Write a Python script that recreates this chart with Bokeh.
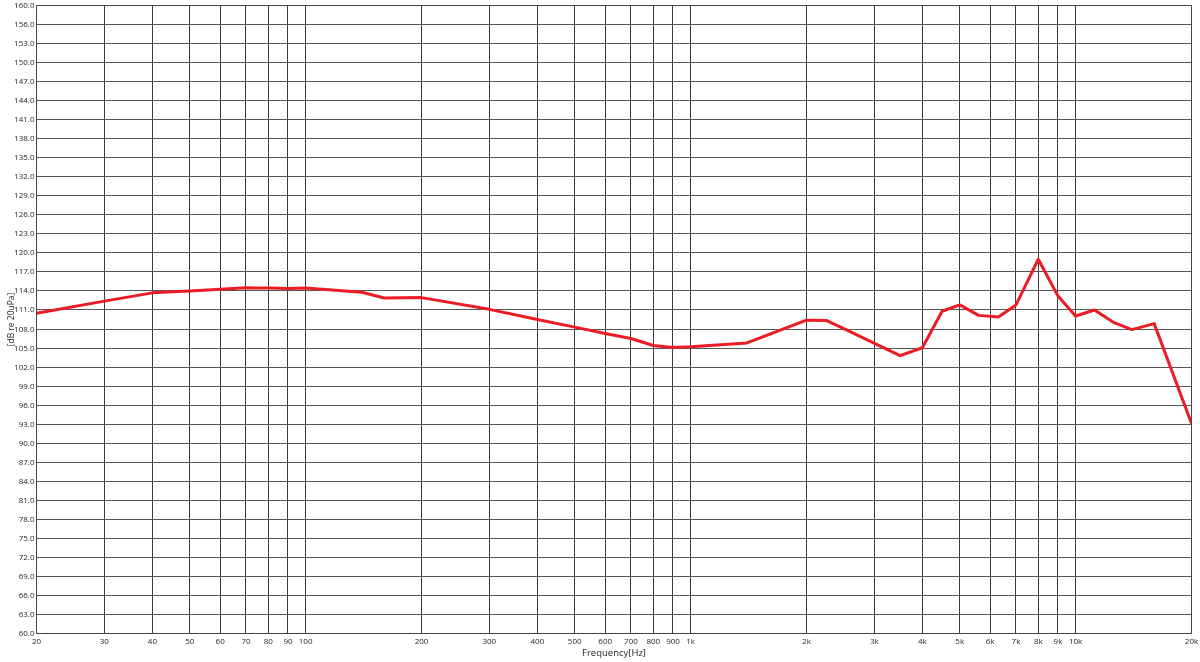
from bokeh.plotting import figure
from bokeh.models import FixedTicker
from bokeh.embed import file_html
from bokeh.resources import INLINE

# ---- data ----
freq_hz = [20, 30, 40, 50, 60, 70, 80, 90, 100, 140, 160, 200, 300, 400, 500, 600,
           700, 800, 900, 1000, 1400, 2000, 2250, 2500, 3500, 4000, 4500, 5000,
           5600, 6300, 7000, 8000, 9000, 10000, 11200, 12500, 14000, 16000, 20000]
level_db = [110.5, 112.4, 113.7, 114.0, 114.25, 114.5, 114.45, 114.4, 114.45, 113.8,
            112.9, 112.95, 111.1, 109.5, 108.3, 107.3, 106.5, 105.4, 105.1, 105.2,
            105.8, 109.4, 109.35, 108.05, 103.8, 105.05, 110.8, 111.8, 110.15, 109.9,
            111.8, 119.0, 113.2, 110.05, 111.0, 109.1, 107.9, 108.85, 93.1]

x_ticks = [20, 30, 40, 50, 60, 70, 80, 90, 100, 200, 300, 400, 500, 600, 700, 800,
           900, 1000, 2000, 3000, 4000, 5000, 6000, 7000, 8000, 9000, 10000, 20000]
x_tick_labels = ["20", "30", "40", "50", "60", "70", "80", "90", "100", "200", "300",
                 "400", "500", "600", "700", "800", "900", "1k", "2k", "3k", "4k",
                 "5k", "6k", "7k", "8k", "9k", "10k", "20k"]
y_ticks = [60 + 3 * i for i in range(34)]          # 60 ... 159
y_tick_labels = [f"{v:.1f}" for v in y_ticks[:-1]] + ["160.0"]

FONT = "Open Sans"
TXT = "#262626"

p = figure(width=1200, height=662, x_axis_type="log",
           x_range=(20, 20000), y_range=(60, 159),
           output_backend="svg", toolbar_location=None,
           min_border_left=36, min_border_right=9,
           min_border_top=5, min_border_bottom=29)
p.styles = {"position": "fixed", "top": "0px", "left": "0px"}
p.background_fill_color = "white"
p.border_fill_color = "white"
p.outline_line_color = "#444444"
p.outline_line_width = 1

# x axis
xa = p.xaxis[0]
xa.ticker = FixedTicker(ticks=x_ticks, minor_ticks=[])
xa.major_label_overrides = {t: l for t, l in zip(x_ticks, x_tick_labels)}
xa.axis_label = "Frequency[Hz]"
# y axis
ya = p.yaxis[0]
ya.ticker = FixedTicker(ticks=y_ticks, minor_ticks=[])
ya.major_label_overrides = {t: l for t, l in zip(y_ticks, y_tick_labels)}
ya.axis_label = "[dB re 20uPa]"

for ax in (xa, ya):
    ax.major_tick_in = 0
    ax.major_tick_out = 0
    ax.minor_tick_in = 0
    ax.minor_tick_out = 0
    ax.axis_line_color = "#444444"
    ax.axis_line_width = 1
    ax.major_label_text_font = FONT
    ax.major_label_text_font_size = "8px"
    ax.major_label_text_color = TXT
    ax.axis_label_text_font = FONT
    ax.axis_label_text_font_style = "normal"
    ax.axis_label_text_color = TXT
xa.major_label_standoff = 1
xa.axis_label_standoff = -3
xa.axis_label_text_font_size = "9.5px"
ya.major_label_standoff = 2
ya.axis_label_standoff = -5
ya.axis_label_text_font_size = "8.5px"

p.xgrid.grid_line_color = "#3c3c3c"
p.xgrid.grid_line_width = 1
p.xgrid.grid_line_alpha = 1.0
p.ygrid.grid_line_color = "#555555"
p.ygrid.grid_line_width = 1
p.ygrid.grid_line_alpha = 1.0

p.line(freq_hz, level_db, line_color="#ec1c24", line_width=3, line_join="round")

open("out.html", "w").write(file_html(p, INLINE))
